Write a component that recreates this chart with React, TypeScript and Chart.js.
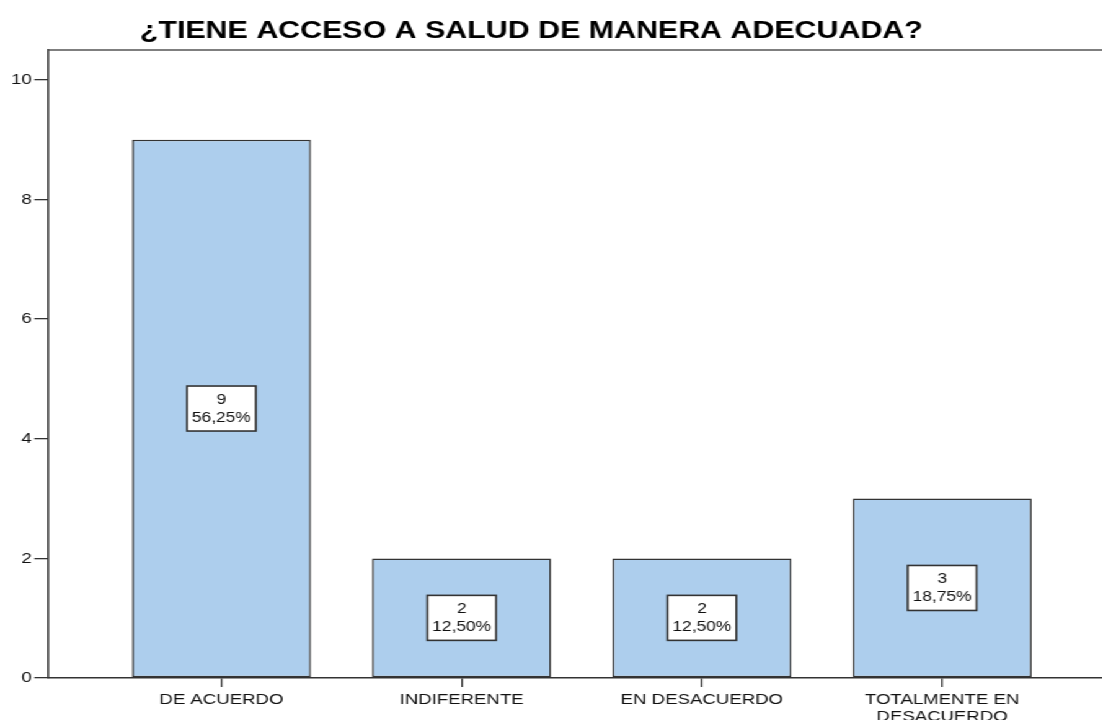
import React, { useEffect, useRef } from "react";
import { Chart, registerables } from "chart.js";

Chart.register(...registerables);

// ---- data ----
const chartTitle = "¿TIENE ACCESO A SALUD DE MANERA ADECUADA?";
const categories: (string | string[])[] = [
  "DE ACUERDO",
  "INDIFERENTE",
  "EN DESACUERDO",
  ["TOTALMENTE EN", "DESACUERDO"],
];
const counts = [9, 2, 2, 3];
const percentLabels = ["56,25%", "12,50%", "12,50%", "18,75%"];
const yTicks = [0, 2, 4, 6, 8, 10];

// ---- look ----
const STRETCH = 1.24;
const W = Math.round(1102 / STRETCH);
const H = 720;
const FONT = '"Liberation Sans", Arial, Helvetica, sans-serif';

const decorPlugin = {
  id: "decor",
  afterDatasetsDraw(chart: any) {
    const ctx = chart.ctx;
    const meta = chart.getDatasetMeta(0);
    ctx.save();
    ctx.font = `14px ${FONT}`;
    ctx.textAlign = "center";
    ctx.textBaseline = "middle";
    meta.data.forEach((el: any, i: number) => {
      const { x, y, base } = el.getProps(["x", "y", "base"], true);
      const cy = (y + base) / 2;
      const l1 = String(counts[i]);
      const l2 = percentLabels[i];
      const tw = Math.max(ctx.measureText(l1).width, ctx.measureText(l2).width);
      const bw = tw + 8;
      const bh = 45;
      ctx.fillStyle = "#ffffff";
      ctx.fillRect(x - bw / 2, cy - bh / 2, bw, bh);
      ctx.strokeStyle = "#333333";
      ctx.lineWidth = 1.6;
      ctx.strokeRect(x - bw / 2, cy - bh / 2, bw, bh);
      ctx.fillStyle = "#111111";
      ctx.fillText(l1, x, cy - 8.5);
      ctx.fillText(l2, x, cy + 9.5);
    });
    ctx.restore();
  },
  afterDraw(chart: any) {
    const ctx = chart.ctx;
    const ca = chart.chartArea;
    ctx.save();
    ctx.strokeStyle = "#555555";
    ctx.lineWidth = 1.6;
    ctx.beginPath();
    ctx.moveTo(ca.left, ca.top);
    ctx.lineTo(chart.width, ca.top);
    ctx.stroke();
    ctx.fillStyle = "#000000";
    ctx.font = `bold 24.5px ${FONT}`;
    ctx.textAlign = "center";
    ctx.textBaseline = "alphabetic";
    ctx.fillText(chartTitle, chart.width * 0.482, 38);
    ctx.restore();
  },
};

export default function App() {
  const ref = useRef<HTMLCanvasElement | null>(null);

  useEffect(() => {
    if (!ref.current) return;
    const chart = new Chart(ref.current, {
      type: "bar",
      data: {
        datasets: [
          {
            data: counts.map((v, i) => ({ x: i, y: v })),
            backgroundColor: "#ADCEED",
            borderColor: "#333333",
            borderWidth: 1.5,
            borderSkipped: false,
            barPercentage: 0.745,
            categoryPercentage: 1,
          } as any,
        ],
      },
      options: {
        animation: false,
        responsive: false,
        devicePixelRatio: 1,
        layout: { padding: { top: 50, left: 0, right: 0, bottom: 0 } },
        plugins: {
          legend: { display: false },
          tooltip: { enabled: false },
          title: { display: false },
        },
        scales: {
          x: {
            type: "linear",
            offset: false,
            min: -0.722,
            max: 3.667,
            afterBuildTicks: (s: any) => {
              s.ticks = categories.map((_, i) => ({ value: i }));
            },
            afterFit: (s: any) => {
              s.height = 42;
            },
            ticks: {
              autoSkip: false,
              maxRotation: 0,
              minRotation: 0,
              padding: 4.5,
              color: "#111111",
              font: { family: FONT, size: 15, lineHeight: 1.13 },
              callback: (v: any) => categories[Math.round(Number(v))] as any,
            },
            grid: {
              display: true,
              offset: false,
              drawOnChartArea: false,
              drawTicks: true,
              tickLength: 9,
              color: "#333333",
              lineWidth: 1.3,
            },
            border: { display: true, color: "#333333", width: 1.6 },
          },
          y: {
            type: "linear",
            min: 0,
            max: 10.5,
            afterBuildTicks: (s: any) => {
              s.ticks = yTicks.map((v) => ({ value: v }));
            },
            afterFit: (s: any) => {
              s.width = 38.7;
            },
            ticks: {
              padding: 2,
              color: "#111111",
              font: { family: FONT, size: 15 },
            },
            grid: {
              display: true,
              drawOnChartArea: false,
              drawTicks: true,
              tickLength: 11,
              color: "#333333",
              lineWidth: 1.3,
            },
            border: { display: true, color: "#333333", width: 1.6 },
          },
        },
      },
      plugins: [decorPlugin],
    });
    return () => chart.destroy();
  }, []);

  return (
    <div
      style={{
        position: "absolute",
        left: 0,
        top: 0,
        width: W,
        height: H,
        transform: `scaleX(${STRETCH})`,
        transformOrigin: "0 0",
        background: "#ffffff",
      }}
    >
      <canvas
        ref={ref}
        width={W}
        height={H}
        style={{ display: "block", width: W + "px", height: H + "px" }}
      />
    </div>
  );
}
